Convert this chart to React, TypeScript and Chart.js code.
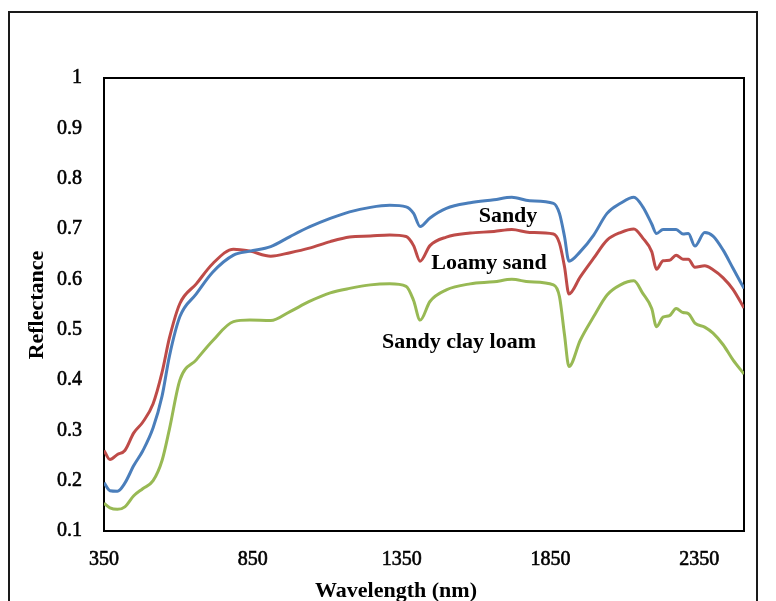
import React, { useEffect, useRef } from "react";
import { Chart, registerables } from "chart.js";

Chart.register(...registerables);

// Wavelength samples (nm) shared by the three soil spectra
const WAVELENGTH = [
  350, 370, 395, 420, 450, 480, 515, 545, 570, 605, 660, 715, 785, 840, 910, 975,
  1040, 1110, 1175, 1245, 1310, 1365, 1390, 1412, 1445, 1500, 1580, 1660, 1720,
  1780, 1860, 1880, 1897, 1912, 1950, 1995, 2040, 2085, 2130, 2160, 2190, 2206,
  2228, 2250, 2272, 2295, 2313, 2335, 2368, 2396, 2430, 2463, 2500,
];

const SANDY = [
  0.196, 0.18, 0.179, 0.195, 0.23, 0.259, 0.305, 0.368, 0.448, 0.526, 0.571, 0.614,
  0.648, 0.656, 0.665, 0.685, 0.704, 0.721, 0.734, 0.743, 0.747, 0.744, 0.731, 0.705,
  0.722, 0.741, 0.752, 0.758, 0.763, 0.756, 0.751, 0.731, 0.685, 0.636, 0.655, 0.688,
  0.731, 0.751, 0.763, 0.744, 0.71, 0.691, 0.699, 0.699, 0.699, 0.69, 0.691, 0.666,
  0.693, 0.686, 0.658, 0.622, 0.582,
];

const LOAMY_SAND = [
  0.26, 0.242, 0.252, 0.26, 0.295, 0.316, 0.353, 0.415, 0.484, 0.552, 0.591, 0.631,
  0.66, 0.656, 0.646, 0.653, 0.662, 0.675, 0.684, 0.686, 0.688, 0.685, 0.667, 0.636,
  0.667, 0.684, 0.692, 0.695, 0.699, 0.693, 0.69, 0.672, 0.625, 0.571, 0.605, 0.642,
  0.678, 0.693, 0.7, 0.682, 0.655, 0.62, 0.637, 0.638, 0.648, 0.64, 0.64, 0.624,
  0.627, 0.619, 0.603, 0.58, 0.543,
];

const SANDY_CLAY_LOAM = [
  0.155, 0.146, 0.143, 0.148, 0.17, 0.184, 0.2, 0.24, 0.303, 0.4, 0.44, 0.478,
  0.516, 0.519, 0.518, 0.536, 0.556, 0.573, 0.582, 0.589, 0.591, 0.586, 0.558, 0.519,
  0.556, 0.579, 0.591, 0.595, 0.6, 0.595, 0.589, 0.566, 0.49, 0.427, 0.479, 0.526,
  0.569, 0.589, 0.597, 0.572, 0.542, 0.506, 0.525, 0.528, 0.542, 0.534, 0.532, 0.513,
  0.505, 0.493, 0.47, 0.44, 0.412,
];

const X_TICKS = [350, 850, 1350, 1850, 2350];
const Y_TICKS = [0.1, 0.2, 0.3, 0.4, 0.5, 0.6, 0.7, 0.8, 0.9, 1];

const SERIES_LABELS = ["Sandy", "Loamy sand", "Sandy clay loam"];
const X_TITLE = "Wavelength (nm)";
const Y_TITLE = "Reflectance";

const SERIF = "'Liberation Serif', 'Times New Roman', serif";

const toPoints = (ys: number[]) => WAVELENGTH.map((x, i) => ({ x, y: ys[i] }));

const decorations = {
  id: "decorations",
  beforeDraw(chart: any) {
    const { ctx } = chart;
    ctx.save();
    ctx.fillStyle = "#ffffff";
    ctx.fillRect(0, 0, chart.width, chart.height);
    // outer chart frame
    ctx.strokeStyle = "#1a1a1a";
    ctx.lineWidth = 2;
    ctx.strokeRect(9, 12, 748, 700);
    ctx.restore();
  },
  beforeDatasetsDraw(chart: any) {
    const { ctx, chartArea: a } = chart;
    ctx.save();
    ctx.strokeStyle = "#000000";
    ctx.lineWidth = 2;
    ctx.strokeRect(a.left, a.top, a.right - a.left, a.bottom - a.top);
    ctx.restore();
  },
  afterDraw(chart: any) {
    const { ctx } = chart;
    ctx.save();
    ctx.fillStyle = "#000000";
    ctx.font = `bold 22px ${SERIF}`;
    ctx.textAlign = "center";
    ctx.textBaseline = "alphabetic";

    // axis titles
    ctx.fillText(X_TITLE, 396, 597);
    ctx.save();
    ctx.translate(43, 305);
    ctx.rotate(-Math.PI / 2);
    ctx.fillText(Y_TITLE, 0, 0);
    ctx.restore();

    // series labels placed beside their curves
    ctx.fillText(SERIES_LABELS[0], 508, 222);
    ctx.fillText(SERIES_LABELS[1], 489, 269);
    ctx.fillText(SERIES_LABELS[2], 459, 348);
    ctx.restore();
  },
};

export default function App() {
  const canvasRef = useRef<HTMLCanvasElement | null>(null);

  useEffect(() => {
    if (!canvasRef.current) return;
    const line = (label: string, ys: number[], color: string) => ({
      label,
      data: toPoints(ys),
      borderColor: color,
      backgroundColor: color,
      borderWidth: 3,
      pointRadius: 0,
      cubicInterpolationMode: "monotone" as const,
      fill: false,
    });

    const tickFont = { family: SERIF, size: 20 };

    const chart = new Chart(canvasRef.current, {
      type: "line",
      data: {
        datasets: [
          line(SERIES_LABELS[0], SANDY, "#4a7ebb"),
          line(SERIES_LABELS[1], LOAMY_SAND, "#be4b48"),
          line(SERIES_LABELS[2], SANDY_CLAY_LOAM, "#98b954"),
        ],
      },
      options: {
        animation: false,
        responsive: false,
        layout: { padding: { left: 0, top: 78, right: 32, bottom: 0 } },
        plugins: {
          legend: { display: false },
          tooltip: { enabled: false },
        },
        scales: {
          x: {
            type: "linear",
            min: 350,
            max: 2500,
            border: { display: false },
            grid: { display: false, drawTicks: false },
            ticks: {
              color: "#000000",
              font: tickFont,
              textStrokeColor: "#000000",
              textStrokeWidth: 0.6,
              padding: 17,
              maxRotation: 0,
              callback: (v: any) => String(v),
            },
            afterBuildTicks: (scale: any) => {
              scale.ticks = X_TICKS.map((value) => ({ value }));
            },
            afterFit: (scale: any) => {
              scale.height = 70;
            },
          },
          y: {
            type: "linear",
            min: 0.1,
            max: 1,
            border: { display: false },
            grid: { display: false, drawTicks: false },
            ticks: {
              color: "#000000",
              font: tickFont,
              textStrokeColor: "#000000",
              textStrokeWidth: 0.6,
              padding: 22,
              callback: (v: any) => String(Math.round(Number(v) * 10) / 10),
            },
            afterBuildTicks: (scale: any) => {
              scale.ticks = Y_TICKS.map((value) => ({ value }));
            },
            afterFit: (scale: any) => {
              scale.width = 104;
            },
          },
        },
      },
      plugins: [decorations],
    });
    return () => chart.destroy();
  }, []);

  return (
    <div
      style={{
        position: "fixed",
        left: 0,
        top: 0,
        width: 776,
        height: 601,
        background: "#ffffff",
      }}
    >
      <canvas ref={canvasRef} width={776} height={601} />
    </div>
  );
}
